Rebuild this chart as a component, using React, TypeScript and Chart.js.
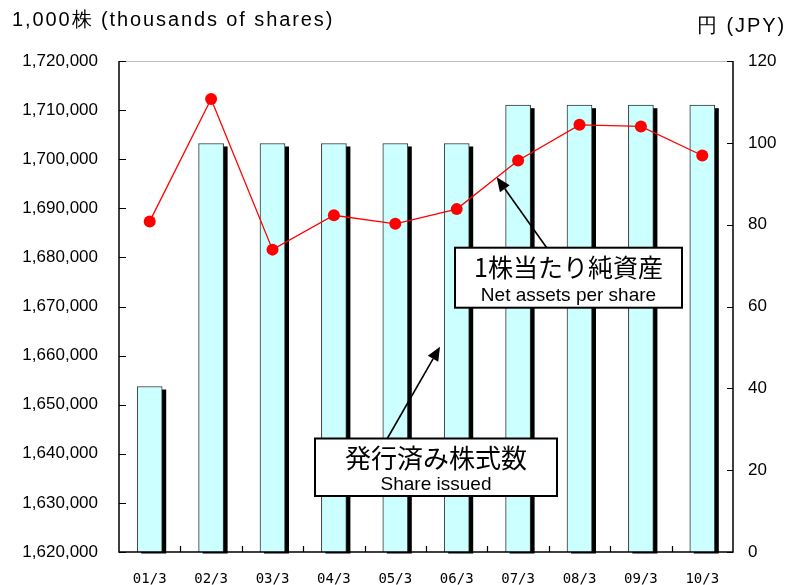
import React, { useEffect, useRef } from "react";
import { Chart, registerables } from "chart.js";

Chart.register(...registerables);

const categories = ["01/3", "02/3", "03/3", "04/3", "05/3", "06/3", "07/3", "08/3", "09/3", "10/3"];
const sharesIssued = [1653700, 1703200, 1703200, 1703200, 1703200, 1703200, 1711000, 1711000, 1711000, 1711000];
const netAssetsPerShare = [80.8, 110.7, 73.9, 82.3, 80.2, 83.8, 95.7, 104.4, 104.0, 96.9];

const leftMin = 1620000;
const leftMax = 1720000;
const leftStep = 10000;
const rightMin = 0;
const rightMax = 120;
const rightStep = 20;

const leftTitle = "1,000株 (thousands of shares)";
const rightTitle = "円 (JPY)";
const netAssetsLabelJa = "1株当たり純資産";
const netAssetsLabelEn = "Net assets per share";
const sharesLabelJa = "発行済み株式数";
const sharesLabelEn = "Share issued";

const LATIN = "'Liberation Sans', Arial, sans-serif";
const CJK = "'Noto Sans CJK JP', 'Liberation Sans', sans-serif";

function drawArrow(ctx: CanvasRenderingContext2D, x1: number, y1: number, x2: number, y2: number) {
  const ang = Math.atan2(y2 - y1, x2 - x1);
  const headLen = 14;
  const headW = 6;
  const bx = x2 - headLen * Math.cos(ang);
  const by = y2 - headLen * Math.sin(ang);
  ctx.save();
  ctx.strokeStyle = "#000";
  ctx.fillStyle = "#000";
  ctx.lineWidth = 1.6;
  ctx.beginPath();
  ctx.moveTo(x1, y1);
  ctx.lineTo(bx, by);
  ctx.stroke();
  ctx.beginPath();
  ctx.moveTo(x2, y2);
  ctx.lineTo(bx + headW * Math.sin(ang), by - headW * Math.cos(ang));
  ctx.lineTo(bx - headW * Math.sin(ang), by + headW * Math.cos(ang));
  ctx.closePath();
  ctx.fill();
  ctx.restore();
}

function drawBox(ctx: CanvasRenderingContext2D, x: number, y: number, w: number, h: number, ja: string, en: string, jaSize: number, jaY: number, enY: number) {
  ctx.save();
  ctx.fillStyle = "#fff";
  ctx.fillRect(x, y, w, h);
  ctx.strokeStyle = "#000";
  ctx.lineWidth = 2;
  ctx.strokeRect(x, y, w, h);
  ctx.fillStyle = "#000";
  ctx.textAlign = "center";
  ctx.textBaseline = "middle";
  ctx.font = `${jaSize}px ${CJK}`;
  ctx.fillText(ja, x + w / 2, jaY);
  ctx.font = `19px ${LATIN}`;
  ctx.fillText(en, x + w / 2, enY);
  ctx.restore();
}

const decorPlugin = {
  id: "decor",
  beforeDatasetDraw(chart: any, args: any) {
    if (args.index !== 0) return;
    const ctx = chart.ctx as CanvasRenderingContext2D;
    const meta = chart.getDatasetMeta(0);
    const bottom = chart.chartArea.bottom;
    ctx.save();
    ctx.fillStyle = "#000";
    meta.data.forEach((bar: any) => {
      const p = bar.getProps(["x", "y", "width"], true);
      ctx.fillRect(p.x - p.width / 2 + 4, p.y + 3, p.width, bottom + 1.5 - (p.y + 3));
    });
    ctx.restore();
  },
  afterDraw(chart: any) {
    const ctx = chart.ctx as CanvasRenderingContext2D;
    const { left, right, top, bottom } = chart.chartArea;
    const yL = chart.scales.y;
    const yR = chart.scales.y1;
    const x = chart.scales.x;
    ctx.save();
    // top border
    ctx.strokeStyle = "#bdbdbd";
    ctx.lineWidth = 1;
    ctx.beginPath();
    ctx.moveTo(left, Math.round(top) + 0.5);
    ctx.lineTo(right, Math.round(top) + 0.5);
    ctx.stroke();
    // axis lines
    ctx.strokeStyle = "#000";
    ctx.lineWidth = 1.5;
    ctx.beginPath();
    ctx.moveTo(left, top);
    ctx.lineTo(left, bottom);
    ctx.lineTo(right, bottom);
    ctx.lineTo(right, top);
    ctx.stroke();
    // inner ticks
    ctx.lineWidth = 1.2;
    ctx.beginPath();
    for (let v = leftMin; v <= leftMax; v += leftStep) {
      const py = Math.round(yL.getPixelForValue(v)) + 0.5;
      ctx.moveTo(left, py);
      ctx.lineTo(left + 7, py);
    }
    for (let v = rightMin; v <= rightMax; v += rightStep) {
      const py = Math.round(yR.getPixelForValue(v)) + 0.5;
      ctx.moveTo(right, py);
      ctx.lineTo(right - 6, py);
    }
    for (let i = 1; i < categories.length; i++) {
      const px = Math.round((x.getPixelForValue(i - 1) + x.getPixelForValue(i)) / 2) + 0.5;
      ctx.moveTo(px, bottom);
      ctx.lineTo(px, bottom - 6);
    }
    ctx.stroke();
    // titles
    ctx.fillStyle = "#000";
    ctx.textBaseline = "middle";
    ctx.textAlign = "left";
    ctx.font = `20px ${LATIN}`;
    (ctx as any).letterSpacing = "1.9px";
    ctx.fillText(leftTitle, 12, 20);
    ctx.textAlign = "right";
    ctx.fillText(rightTitle, 786, 26);
    (ctx as any).letterSpacing = "0px";
    ctx.restore();

    // annotations
    drawArrow(ctx, 546.7, 247.7, 496.7, 177.3);
    drawArrow(ctx, 387.3, 438.5, 440, 346.7);
    drawBox(ctx, 455, 247.7, 227, 60, netAssetsLabelJa, netAssetsLabelEn, 25, 267, 295.5);
    drawBox(ctx, 315, 438.5, 242, 57.5, sharesLabelJa, sharesLabelEn, 26, 458.5, 485);
  },
};

export default function App() {
  const ref = useRef<HTMLCanvasElement>(null);
  useEffect(() => {
    if (!ref.current) return;
    const chart = new Chart(ref.current, {
      type: "bar",
      data: {
        labels: categories,
        datasets: [
          {
            type: "bar",
            label: "Share issued",
            data: sharesIssued,
            yAxisID: "y",
            backgroundColor: "#CCFFFF",
            borderColor: "#333",
            borderWidth: 1,
            barThickness: 25,
            order: 2,
          } as any,
          {
            type: "line",
            label: "Net assets per share",
            data: netAssetsPerShare,
            yAxisID: "y1",
            borderColor: "#FF0000",
            backgroundColor: "#FF0000",
            borderWidth: 1.3,
            pointRadius: 6,
            pointBorderWidth: 0,
            pointBackgroundColor: "#FF0000",
            tension: 0,
            order: 1,
          } as any,
        ],
      },
      options: {
        responsive: false,
        animation: false,
        layout: { padding: { top: 61, left: 0, right: 0, bottom: 0 } },
        plugins: { legend: { display: false }, tooltip: { enabled: false } },
        scales: {
          x: {
            grid: { display: false, drawTicks: false },
            border: { display: false },
            ticks: {
              color: "#000",
              padding: 19,
              autoSkip: false,
              maxRotation: 0,
              font: { family: "'DejaVu Sans Mono', monospace", size: 14 },
            },
            afterFit: (s: any) => { s.height = 33; },
          },
          y: {
            position: "left",
            min: leftMin,
            max: leftMax,
            grid: { display: false, drawTicks: false },
            border: { display: false },
            ticks: {
              stepSize: leftStep,
              color: "#000",
              padding: 21,
              font: { family: LATIN, size: 17 },
              callback: (v: any) => Number(v).toLocaleString("en-US"),
            },
            afterFit: (s: any) => { s.width = 119; },
          },
          y1: {
            position: "right",
            min: rightMin,
            max: rightMax,
            grid: { display: false, drawTicks: false },
            border: { display: false },
            ticks: { stepSize: rightStep, color: "#000", padding: 15, font: { family: LATIN, size: 17 } },
            afterFit: (s: any) => { s.width = 54; },
          },
        },
      },
      plugins: [decorPlugin],
    });
    return () => chart.destroy();
  }, []);
  return (
    <div style={{ position: "absolute", left: 0, top: 0, width: 787, height: 585, background: "#fff" }}>
      <canvas ref={ref} width={787} height={585} />
    </div>
  );
}
